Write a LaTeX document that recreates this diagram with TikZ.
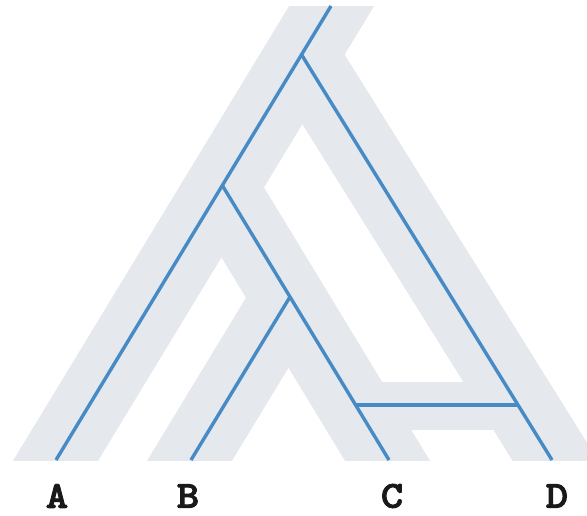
\documentclass[tikz,border=0pt]{standalone}
\usepackage{fontspec}
\newfontfamily\labelfont{lmmonolt10-bold.otf}[FakeBold=2.5,FakeStretch=1.12]
\usetikzlibrary{calc}
\definecolor{bandgray}{RGB}{229,232,236}
\definecolor{geneblue}{RGB}{70,138,198}
\tikzset{
  band/.style={draw=bandgray, line width=72.7pt, line cap=butt},
  hband/.style={draw=bandgray, line width=48pt, line cap=butt},
  gene/.style={draw=geneblue, line width=3.4pt, line cap=butt, line join=miter},
  leaflabel/.style={font=\labelfont\fontsize{38}{38}\selectfont, inner sep=0pt, text=black!90}
}
\begin{document}
\begin{tikzpicture}[x=1pt,y=-1pt]
\useasboundingbox (0,0) rectangle (587,516);
% species tree (gray bands)
\coordinate (gA) at (56,460);
\coordinate (gTop) at (331,7);
\coordinate (gRoot) at (302,55);
\coordinate (gD) at (555,460);
\coordinate (gBC) at (221.5,187.4);
\coordinate (gC) at (387,460);
\coordinate (gBCsplit) at (288.5,297.7);
\coordinate (gB) at (190,460);
\coordinate (gHl) at (354,406);
\coordinate (gHr) at (521,406);
\begin{scope}
\clip (0,7) rectangle (587,460);
\draw[band] ($(gA)!-0.1!(gTop)$) -- ($(gA)!1.1!(gTop)$);
\draw[band] (gRoot) -- ($(gRoot)!1.1!(gD)$);
\draw[band] (gBC) -- ($(gBC)!1.1!(gC)$);
\draw[band] (gBCsplit) -- ($(gBCsplit)!1.2!(gB)$);
\draw[hband] (gHl) -- (gHr);
\end{scope}
% gene tree (blue lines)
\coordinate (bA) at (56,460);
\coordinate (bTop) at (331,6);
\coordinate (bRoot) at (301.8,55.1);
\coordinate (bD) at (552,460);
\coordinate (bBC) at (222.5,185.7);
\coordinate (bC) at (389,460);
\coordinate (bBCsplit) at (290,296.9);
\coordinate (bB) at (191,460);
\coordinate (bHl) at (355.6,405);
\coordinate (bHr) at (518,405);
\draw[gene] (bA) -- (bTop);
\draw[gene] (bRoot) -- (bD);
\draw[gene] (bBC) -- (bC);
\draw[gene] (bBCsplit) -- (bB);
\draw[gene] (bHl) -- (bHr);
% labels
\node[leaflabel] (lA) at (57,496) {A};
\node[leaflabel] (lB) at (188,496) {B};
\node[leaflabel] (lC) at (392,496) {C};
\node[leaflabel] (lD) at (557,496) {D};
\end{tikzpicture}
\end{document}
